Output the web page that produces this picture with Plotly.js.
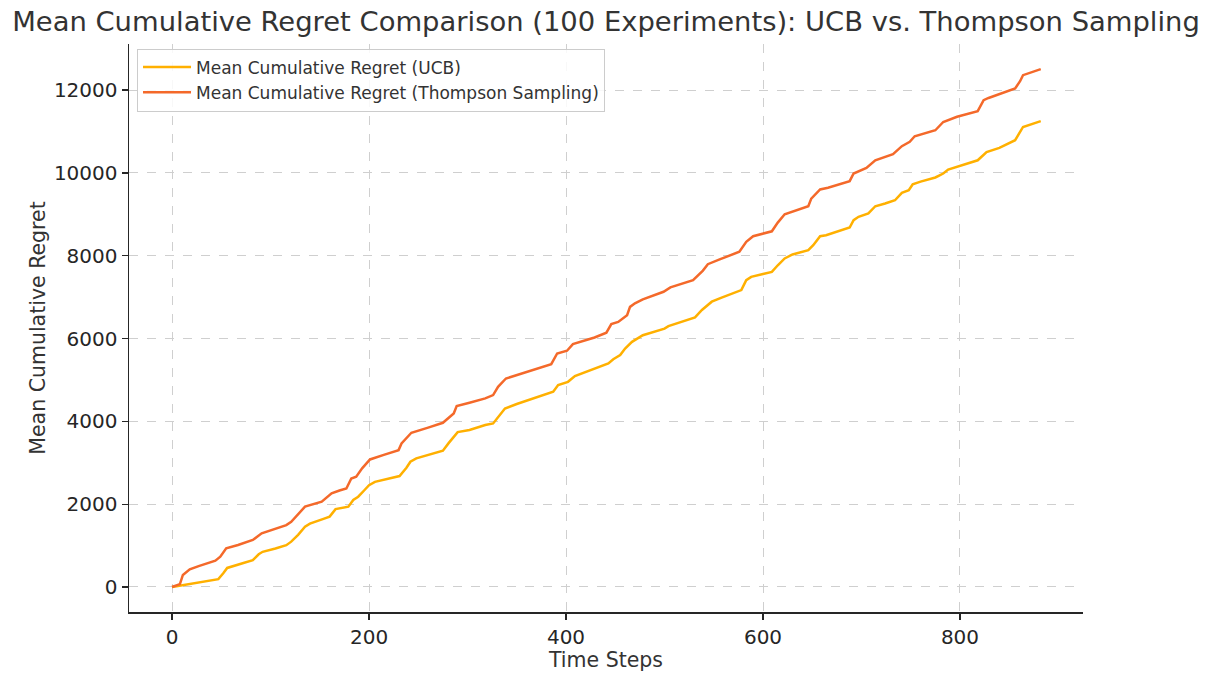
<!DOCTYPE html>
<html>
<head>
<meta charset="utf-8">
<script src="https://cdn.plot.ly/plotly-3.0.1.min.js"></script>
<style>html,body{margin:0;padding:0;background:#fff;}#chart{width:1216px;height:683px;}</style>
</head>
<body>
<div id="chart"></div>
<script>
const ucbSteps = [0,8,20,35,47,52,56,70,82,88,92,105,116,121,128,135,140,153,160,166,179,184,189,195,200,206,220,231,238,242,248,262,275,281,287,290,302,318,326,331,338,350,370,387,392,402,409,431,443,448,455,460,467,478,490,500,504,517,531,538,548,558,578,583,588,600,609,615,622,630,646,651,658,664,688,692,697,707,714,724,734,741,748,752,760,775,783,788,800,818,827,840,856,861,864,882];
const ucbRegret = [0,30,80,130,190,330,460,560,650,790,850,930,1010,1095,1260,1455,1530,1640,1700,1880,1940,2100,2180,2330,2460,2540,2610,2680,2880,3025,3105,3200,3290,3480,3670,3740,3790,3910,3950,4110,4310,4420,4570,4715,4875,4955,5095,5280,5400,5500,5600,5760,5920,6080,6160,6240,6300,6400,6510,6690,6890,6990,7170,7410,7490,7560,7610,7770,7935,8030,8135,8255,8470,8495,8680,8860,8940,9020,9195,9260,9340,9520,9580,9725,9790,9890,9985,10080,10170,10305,10505,10605,10790,10975,11110,11250];
const tsSteps = [0,8,11,18,27,44,49,55,67,82,91,104,116,121,128,135,152,162,170,177,182,187,193,201,215,230,233,243,260,275,286,289,302,318,326,331,339,360,385,391,401,407,429,441,446,453,462,465,470,478,499,506,529,539,544,556,576,583,590,609,615,622,646,649,658,666,688,692,705,714,732,741,749,754,775,783,797,818,824,829,856,861,864,882];
const tsRegret = [0,70,290,425,505,635,730,935,1015,1135,1295,1390,1495,1575,1750,1940,2060,2260,2330,2380,2620,2665,2865,3080,3190,3305,3465,3725,3850,3965,4190,4370,4450,4555,4635,4835,5035,5200,5380,5640,5705,5865,6025,6140,6350,6400,6565,6765,6850,6945,7130,7235,7410,7640,7795,7910,8095,8335,8470,8590,8800,9000,9195,9380,9600,9640,9800,9985,10120,10305,10450,10645,10750,10885,11030,11230,11355,11490,11755,11810,12040,12215,12360,12505];
const seriesNames = ['Mean Cumulative Regret (UCB)', 'Mean Cumulative Regret (Thompson Sampling)'];
const xTicks = [0,200,400,600,800];
const yTicks = [0,2000,4000,6000,8000,10000,12000];

const font = 'DejaVu Sans, sans-serif';
const traces = [
  {x: ucbSteps, y: ucbRegret, name: seriesNames[0], mode: 'lines', line: {color: '#ffb000', width: 2.5}},
  {x: tsSteps, y: tsRegret, name: seriesNames[1], mode: 'lines', line: {color: '#f4692a', width: 2.5}}
];
const layout = {
  width: 1216, height: 683,
  margin: {l: 129, r: 133, t: 44, b: 71, pad: 0},
  paper_bgcolor: '#fff', plot_bgcolor: '#fff',
  font: {family: font, color: '#262626'},
  title: {text: 'Mean Cumulative Regret Comparison (100 Experiments): UCB vs. Thompson Sampling',
          font: {family: font, size: 27.4, color: '#333333'}, x: 0.5, xref: 'paper', xanchor: 'center',
          y: 0.968, yref: 'container', yanchor: 'middle'},
  xaxis: {range: [-43.7, 924.9], tickvals: xTicks, ticktext: xTicks.map(String),
          showgrid: true, gridcolor: '#cfcfcf', griddash: 'dash', gridwidth: 1,
          zeroline: false, showline: true, linecolor: '#262626', linewidth: 1.5,
          ticks: 'outside', ticklen: 6, tickwidth: 1.2, tickcolor: '#262626',
          tickfont: {family: font, size: 20, color: '#262626'},
          title: {text: 'Time Steps', font: {family: font, size: 20.5, color: '#333333'}, standoff: 0}},
  yaxis: {range: [-604, 13113], tickvals: yTicks, ticktext: yTicks.map(String),
          showgrid: true, gridcolor: '#cfcfcf', griddash: 'dash', gridwidth: 1,
          zeroline: false, showline: true, linecolor: '#262626', linewidth: 1.5,
          ticks: 'outside', ticklen: 6, tickwidth: 1.2, tickcolor: '#262626',
          tickfont: {family: font, size: 20, color: '#262626'},
          title: {text: 'Mean Cumulative Regret', font: {family: font, size: 20.5, color: '#333333'}, standoff: 2}},
  legend: {x: 0.0084, y: 0.992, xanchor: 'left', yanchor: 'top', itemwidth: 48,
           bgcolor: 'rgba(255,255,255,0.85)', bordercolor: '#cccccc', borderwidth: 1,
           font: {family: font, size: 17, color: '#333333'}, tracegroupgap: 0},
  showlegend: true
};
Plotly.newPlot('chart', traces, layout, {displayModeBar: false, staticPlot: true});
</script>
</body>
</html>
